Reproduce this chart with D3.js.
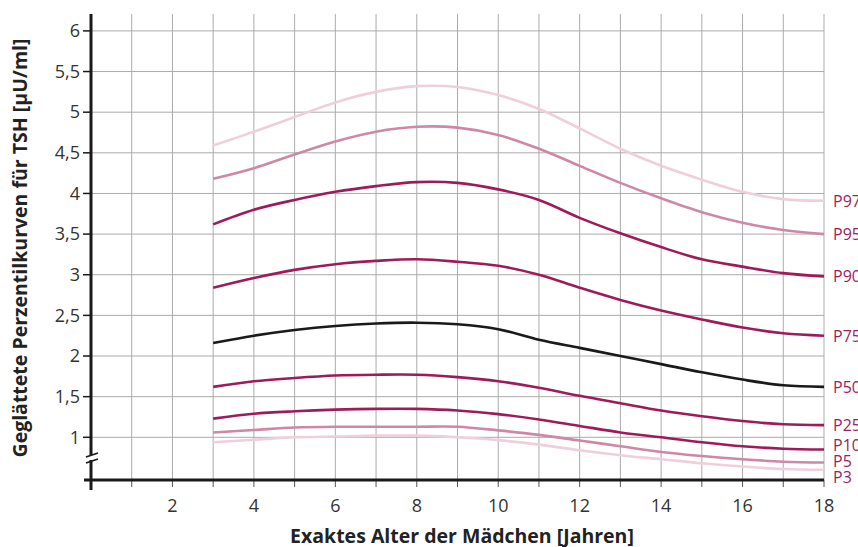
<!DOCTYPE html>
<meta charset="utf-8">
<style>
  body { margin: 0; background: #fff; }
  text { font-family: "Open Sans", "Noto Sans", sans-serif; }
  .grid line { stroke: #ababab; stroke-width: 1; }
  .tick-label { font-size: 18px; fill: #333; }
  .title { font-size: 19.5px; font-weight: 700; fill: #222; }
  .plabel { font-size: 16px; fill: #a01c5c; }
</style>
<body>
<script src="https://d3js.org/d3.v7.min.js"></script>
<script>
const ages = [3, 4, 5, 6, 7, 8, 9, 10, 11, 12, 13, 14, 15, 16, 17, 18];

const p97 = [4.59, 4.76, 4.94, 5.12, 5.25, 5.32, 5.31, 5.21, 5.04, 4.80, 4.55, 4.34, 4.17, 4.02, 3.93, 3.91];
const p95 = [4.18, 4.31, 4.48, 4.64, 4.76, 4.82, 4.81, 4.72, 4.55, 4.34, 4.13, 3.94, 3.77, 3.64, 3.55, 3.50];
const p90 = [3.62, 3.80, 3.92, 4.02, 4.09, 4.14, 4.13, 4.05, 3.92, 3.70, 3.51, 3.34, 3.19, 3.10, 3.02, 2.98];
const p75 = [2.84, 2.96, 3.06, 3.13, 3.17, 3.19, 3.16, 3.11, 3.00, 2.84, 2.69, 2.56, 2.45, 2.35, 2.28, 2.25];
const p50 = [2.16, 2.25, 2.32, 2.37, 2.40, 2.41, 2.39, 2.33, 2.20, 2.10, 2.00, 1.90, 1.80, 1.71, 1.64, 1.62];
const p25 = [1.62, 1.69, 1.73, 1.76, 1.77, 1.77, 1.74, 1.69, 1.61, 1.51, 1.42, 1.33, 1.26, 1.20, 1.16, 1.15];
const p10 = [1.23, 1.29, 1.32, 1.34, 1.35, 1.35, 1.33, 1.285, 1.22, 1.14, 1.06, 1.00, 0.94, 0.89, 0.86, 0.85];
const p5  = [1.06, 1.09, 1.12, 1.13, 1.13, 1.13, 1.13, 1.085, 1.03, 0.96, 0.89, 0.82, 0.77, 0.73, 0.70, 0.69];
const p3  = [0.94, 0.97, 1.00, 1.01, 1.02, 1.02, 1.00, 0.965, 0.91, 0.84, 0.78, 0.73, 0.68, 0.64, 0.61, 0.60];

const seriesNames = ["P97", "P95", "P90", "P75", "P50", "P25", "P10", "P5", "P3"];
const seriesValues = [p97, p95, p90, p75, p50, p25, p10, p5, p3];
const seriesColors = ["#efcfdd", "#cf87a7", "#9e1b5b", "#9e1b5b", "#1a1a1a", "#9e1b5b", "#9e1b5b", "#cf87a7", "#efcfdd"];

const yTicks = [1, 1.5, 2, 2.5, 3, 3.5, 4, 4.5, 5, 5.5, 6];
const xGrid = d3.range(1, 19);
const xLabels = [2, 4, 6, 8, 10, 12, 14, 16, 18];

const width = 858, height = 547;
const plotLeft = 91, plotRight = 824, plotTop = 14, plotBottom = 480;

const x = d3.scaleLinear().domain([0, 18]).range([plotLeft, plotRight]);
const y = d3.scaleLinear().domain([1, 6]).range([437.3, 30.9]);

const fmt = d => String(d).replace(".", ",");

const svg = d3.select("body").append("svg")
  .attr("width", width)
  .attr("height", height);

// grid
const grid = svg.append("g").attr("class", "grid");
grid.selectAll(".v").data(xGrid).enter().append("line")
  .attr("x1", d => x(d)).attr("x2", d => x(d))
  .attr("y1", plotTop).attr("y2", plotBottom);
grid.selectAll(".h").data(yTicks).enter().append("line")
  .attr("x1", plotLeft).attr("x2", plotRight)
  .attr("y1", d => y(d)).attr("y2", d => y(d));

// y ticks + labels
svg.append("g").selectAll("line").data(yTicks).enter().append("line")
  .attr("x1", plotLeft - 8).attr("x2", plotLeft)
  .attr("y1", d => y(d)).attr("y2", d => y(d))
  .attr("stroke", "#1a1a1a").attr("stroke-width", 1.5);
svg.append("g").selectAll("text").data(yTicks).enter().append("text")
  .attr("class", "tick-label")
  .attr("x", plotLeft - 11)
  .attr("y", d => y(d))
  .attr("dy", "0.35em")
  .attr("text-anchor", "end")
  .text(fmt);

// x ticks + labels
svg.append("g").selectAll("line").data(xGrid).enter().append("line")
  .attr("x1", d => x(d)).attr("x2", d => x(d))
  .attr("y1", plotBottom).attr("y2", plotBottom + 7)
  .attr("stroke", "#555").attr("stroke-width", 1);
svg.append("g").selectAll("text").data(xLabels).enter().append("text")
  .attr("class", "tick-label")
  .attr("x", d => x(d))
  .attr("y", plotBottom + 32)
  .attr("text-anchor", "middle")
  .text(d => d);

// curves
const line = d3.line()
  .x((d, i) => x(ages[i]))
  .y(d => y(d))
  .curve(d3.curveCatmullRom.alpha(0.5));

svg.append("g").selectAll("path").data(seriesValues).enter().append("path")
  .attr("d", line)
  .attr("fill", "none")
  .attr("stroke", (d, i) => seriesColors[i])
  .attr("stroke-width", 2.6);

// right labels, nudged apart so they don't overlap
const labels = seriesNames.map((n, i) => ({ name: n, y: y(seriesValues[i][ages.length - 1]) }));
for (let k = 0; k < 50; k++) {
  for (let i = 1; i < labels.length; i++) {
    const gap = labels[i].y - labels[i - 1].y;
    if (gap < 16) {
      const push = (16 - gap) / 2;
      labels[i].y += push;
      labels[i - 1].y -= push;
    }
  }
}
svg.append("g").selectAll("text").data(labels).enter().append("text")
  .attr("class", "plabel")
  .attr("x", plotRight + 9)
  .attr("y", d => d.y)
  .attr("dy", "0.38em")
  .text(d => d.name);

// axes
svg.append("line")
  .attr("x1", plotLeft - 7).attr("x2", plotRight)
  .attr("y1", plotBottom).attr("y2", plotBottom)
  .attr("stroke", "#1a1a1a").attr("stroke-width", 3);
svg.append("line")
  .attr("x1", plotLeft).attr("x2", plotLeft)
  .attr("y1", plotTop).attr("y2", plotBottom + 10)
  .attr("stroke", "#1a1a1a").attr("stroke-width", 3);

// axis break mark
const brk = svg.append("g");
brk.append("rect")
  .attr("x", plotLeft - 3).attr("y", 455).attr("width", 6).attr("height", 5)
  .attr("fill", "#fff");
[454, 460].forEach(v => {
  brk.append("line")
    .attr("x1", plotLeft - 5).attr("x2", plotLeft + 7)
    .attr("y1", v + 3).attr("y2", v - 1)
    .attr("stroke", "#1a1a1a").attr("stroke-width", 1.8);
});

// titles
svg.append("text")
  .attr("class", "title")
  .attr("x", 462)
  .attr("y", 543)
  .attr("text-anchor", "middle")
  .text("Exaktes Alter der Mädchen [Jahren]");

svg.append("text")
  .attr("class", "title")
  .attr("transform", "translate(27," + 248 + ") rotate(-90)")
  .attr("text-anchor", "middle")
  .text("Geglättete Perzentilkurven für TSH [µU/ml]");
</script>
</body>
</html>
